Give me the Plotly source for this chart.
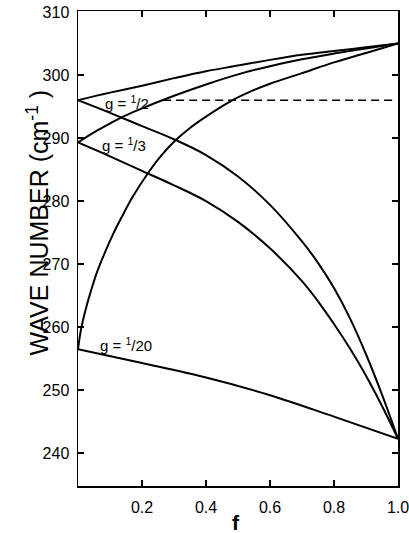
import plotly.graph_objects as go

# ---- data ----
f_half_up = [0, 0.1, 0.2, 0.3, 0.4, 0.5, 0.6, 0.7, 0.8, 0.9, 1.0]
v_half_up = [296.0, 297.2, 298.3, 299.5, 300.6, 301.5, 302.4, 303.2, 303.8, 304.4, 305.0]

f_third_up = [0, 0.05, 0.1, 0.141, 0.2, 0.3, 0.4, 0.5, 0.6, 0.7, 0.8, 0.9, 1.0]
v_third_up = [289.3, 290.9, 292.3, 293.4, 294.7, 296.7, 298.5, 300.1, 301.4, 302.5, 303.4, 304.2, 305.0]

f_twent_up = [0, 0.01, 0.025, 0.042, 0.06, 0.083, 0.11, 0.135, 0.17, 0.217, 0.26,
              0.304, 0.35, 0.4, 0.479, 0.54, 0.6, 0.7, 0.8, 0.9, 1.0]
v_twent_up = [256.5, 259.8, 263.0, 266.0, 268.8, 271.7, 274.8, 277.3, 280.6, 284.3, 287.2,
              289.6, 291.6, 293.4, 295.9, 297.4, 298.6, 300.3, 302.0, 303.5, 305.0]

f_half_lo = [0, 0.1, 0.2, 0.3, 0.4, 0.5, 0.6, 0.7, 0.75, 0.8, 0.85, 0.9, 0.95, 1.0]
v_half_lo = [296.0, 294.0, 291.9, 289.8, 287.3, 283.9, 279.4, 273.6, 270.2, 266.2, 261.4, 255.7, 249.3, 242.3]

f_third_lo = [0, 0.1, 0.2, 0.3, 0.4, 0.5, 0.6, 0.7, 0.75, 0.8, 0.85, 0.9, 0.95, 1.0]
v_third_lo = [289.3, 287.1, 284.8, 282.5, 280.0, 276.7, 272.5, 267.3, 264.1, 260.5, 256.6, 252.3, 247.5, 242.3]

f_twent_lo = [0, 0.2, 0.4, 0.6, 0.8, 1.0]
v_twent_lo = [256.5, 254.3, 252.0, 249.2, 245.8, 242.3]

f_dash = [0.266, 0.99]
v_dash = [296.0, 296.0]

labels = ["g = <sup>1</sup>/2", "g = <sup>1</sup>/3", "g = <sup>1</sup>/20"]
label_f = [0.078, 0.069, 0.0625]
label_v = [295.6, 289.0, 257.3]

x_tickvals = [0.2, 0.4, 0.6, 0.8, 1.0]
x_ticktext = ["0.2", "0.4", "0.6", "0.8", "1.0"]
y_tickvals = [240, 250, 260, 270, 280, 290, 300, 310]

FONT = "Liberation Sans, Arial, sans-serif"

fig = go.Figure()
curves = [
    (f_half_up, v_half_up), (f_third_up, v_third_up), (f_twent_up, v_twent_up),
    (f_half_lo, v_half_lo), (f_third_lo, v_third_lo), (f_twent_lo, v_twent_lo),
]
for fx, vy in curves:
    fig.add_trace(go.Scatter(x=fx, y=vy, mode="lines",
                             line=dict(color="black", width=2, shape="spline", smoothing=1.0),
                             hoverinfo="skip", showlegend=False))
fig.add_trace(go.Scatter(x=f_dash, y=v_dash, mode="lines",
                         line=dict(color="black", width=1.5, dash="8px,5px"),
                         hoverinfo="skip", showlegend=False))

for t, fx, vy in zip(labels, label_f, label_v):
    fig.add_annotation(x=fx, y=vy, xref="x", yref="y", text=t, showarrow=False,
                       xanchor="left", yanchor="middle",
                       font=dict(family=FONT, size=15, color="black"))

fig.add_annotation(x=-0.125, y=0.555, xref="paper", yref="paper",
                   text="WAVE NUMBER (cm<sup>-1</sup> )", textangle=-90, showarrow=False,
                   xanchor="center", yanchor="middle",
                   font=dict(family=FONT, size=25, color="black"))
fig.add_annotation(x=0.494, y=-0.076, xref="paper", yref="paper",
                   text="<b>f</b>", showarrow=False, xanchor="center", yanchor="middle",
                   font=dict(family=FONT, size=21, color="black"))

fig.update_xaxes(range=[0, 1], tickvals=x_tickvals, ticktext=x_ticktext,
                 ticks="inside", ticklen=6, tickwidth=1.5, tickcolor="black",
                 showline=True, linecolor="black", linewidth=1.5, mirror="ticks",
                 showgrid=False, zeroline=False, ticklabelstandoff=6, automargin=False,
                 ticklabeloverflow="allow",
                 tickfont=dict(family=FONT, size=16, color="black"))
fig.update_yaxes(range=[234.8, 310.15], tickvals=y_tickvals,
                 ticks="inside", ticklen=6, tickwidth=1.5, tickcolor="black",
                 showline=True, linecolor="black", linewidth=1.5, mirror="ticks",
                 showgrid=False, zeroline=False, ticklabelstandoff=4, automargin=False,
                 ticklabeloverflow="allow",
                 tickfont=dict(family=FONT, size=16, color="black"))

fig.update_layout(width=409, height=533,
                  margin=dict(l=78, r=11, t=11, b=47, pad=0, autoexpand=False),
                  paper_bgcolor="white", plot_bgcolor="white")

# remove the page's default body margin so the figure fills the window exactly
fig.write_html("out.html",
               config={"displayModeBar": False, "staticPlot": True},
               post_script="document.body.style.margin='0';document.body.style.overflow='hidden';")
